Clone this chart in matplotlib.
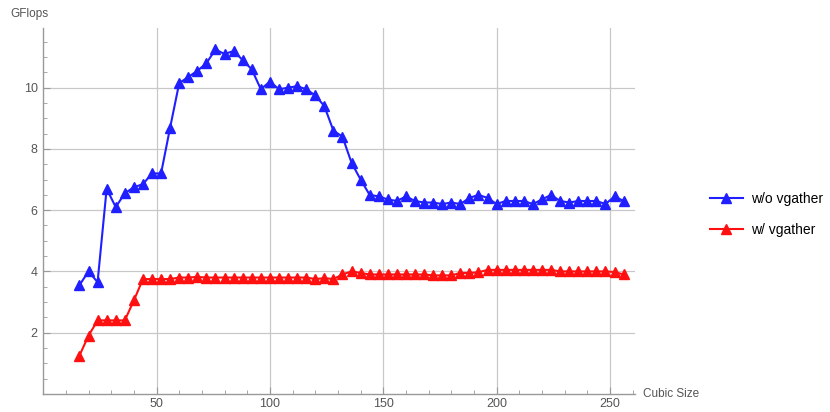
import numpy as np
import matplotlib
matplotlib.use('Agg')
import matplotlib.pyplot as plt
from matplotlib.ticker import MultipleLocator

plt.rcParams['font.family'] = ['Liberation Sans', 'DejaVu Sans']

# cubic size, step 4
sizes = list(range(16, 257, 4))

# w/o vgather
gflops_no_gather = [3.55, 4.0, 3.65, 6.7, 6.1, 6.55, 6.75, 6.85, 7.2, 7.2,
                    8.7, 10.15, 10.35, 10.55, 10.8, 11.25, 11.1, 11.2, 10.9, 10.6,
                    9.95, 10.2, 9.95, 10.0, 10.05, 9.95, 9.75, 9.4, 8.6, 8.4,
                    7.55, 7.0, 6.5, 6.45, 6.35, 6.3, 6.45, 6.3, 6.25, 6.25,
                    6.2, 6.25, 6.2, 6.4, 6.5, 6.4, 6.2, 6.3, 6.3, 6.3,
                    6.2, 6.35, 6.5, 6.3, 6.25, 6.3, 6.3, 6.3, 6.2, 6.45,
                    6.3]

# w/ vgather
gflops_gather = [1.25, 1.9, 2.4, 2.4, 2.4, 2.4, 3.05, 3.75, 3.75, 3.75,
                 3.75, 3.8, 3.8, 3.82, 3.8, 3.8, 3.8, 3.8, 3.8, 3.8,
                 3.8, 3.8, 3.8, 3.8, 3.8, 3.8, 3.75, 3.78, 3.75, 3.9,
                 4.0, 3.95, 3.9, 3.9, 3.9, 3.9, 3.9, 3.9, 3.9, 3.87,
                 3.87, 3.87, 3.95, 3.95, 3.97, 4.05, 4.05, 4.05, 4.05, 4.05,
                 4.05, 4.05, 4.05, 4.0, 4.0, 4.0, 4.0, 4.0, 4.0, 3.98,
                 3.9]

axis_col = '#999999'
text_col = '#555555'

fig = plt.figure(figsize=(8.3, 4.12), dpi=100)
ax = fig.add_axes([0.052, 0.044, 0.713, 0.888])

l1, = ax.plot(sizes, gflops_no_gather, color='#1f1fff', lw=1.5, marker='^', ms=7,
              label='w/o vgather')
l2, = ax.plot(sizes, gflops_gather, color='#ff1010', lw=1.5, marker='^', ms=7,
              label='w/ vgather')

ax.set_xlim(0, 261)
ax.set_ylim(0, 11.95)

ax.set_xticks([50, 100, 150, 200, 250])
ax.xaxis.set_minor_locator(MultipleLocator(10))
ax.set_yticks([2, 4, 6, 8, 10])
ax.yaxis.set_minor_locator(MultipleLocator(0.5))

ax.grid(True, which='major', color='#c8c8c8', lw=0.9)
ax.set_axisbelow(True)

for s in ['top', 'right']:
    ax.spines[s].set_visible(False)
for s in ['left', 'bottom']:
    ax.spines[s].set_color(axis_col)
    ax.spines[s].set_linewidth(1.0)

ax.tick_params(which='major', length=5, color=axis_col, labelcolor=text_col,
               labelsize=9, direction='in')
ax.tick_params(which='minor', length=3, color=axis_col, direction='in')
ax.tick_params(axis='x', pad=3)
ax.tick_params(axis='y', pad=4)

fig.text(0.012, 0.965, 'GFlops', fontsize=8.5, color=text_col, ha='left', va='center')
fig.text(0.775, 0.044, 'Cubic Size', fontsize=8.5, color=text_col, ha='left', va='center')

fig.legend(handles=[l1, l2], loc='center left', bbox_to_anchor=(0.84, 0.48),
           frameon=False, fontsize=10, handlelength=2.4, handletextpad=0.6,
           labelspacing=1.2)

fig.savefig('out.png', dpi=100)
